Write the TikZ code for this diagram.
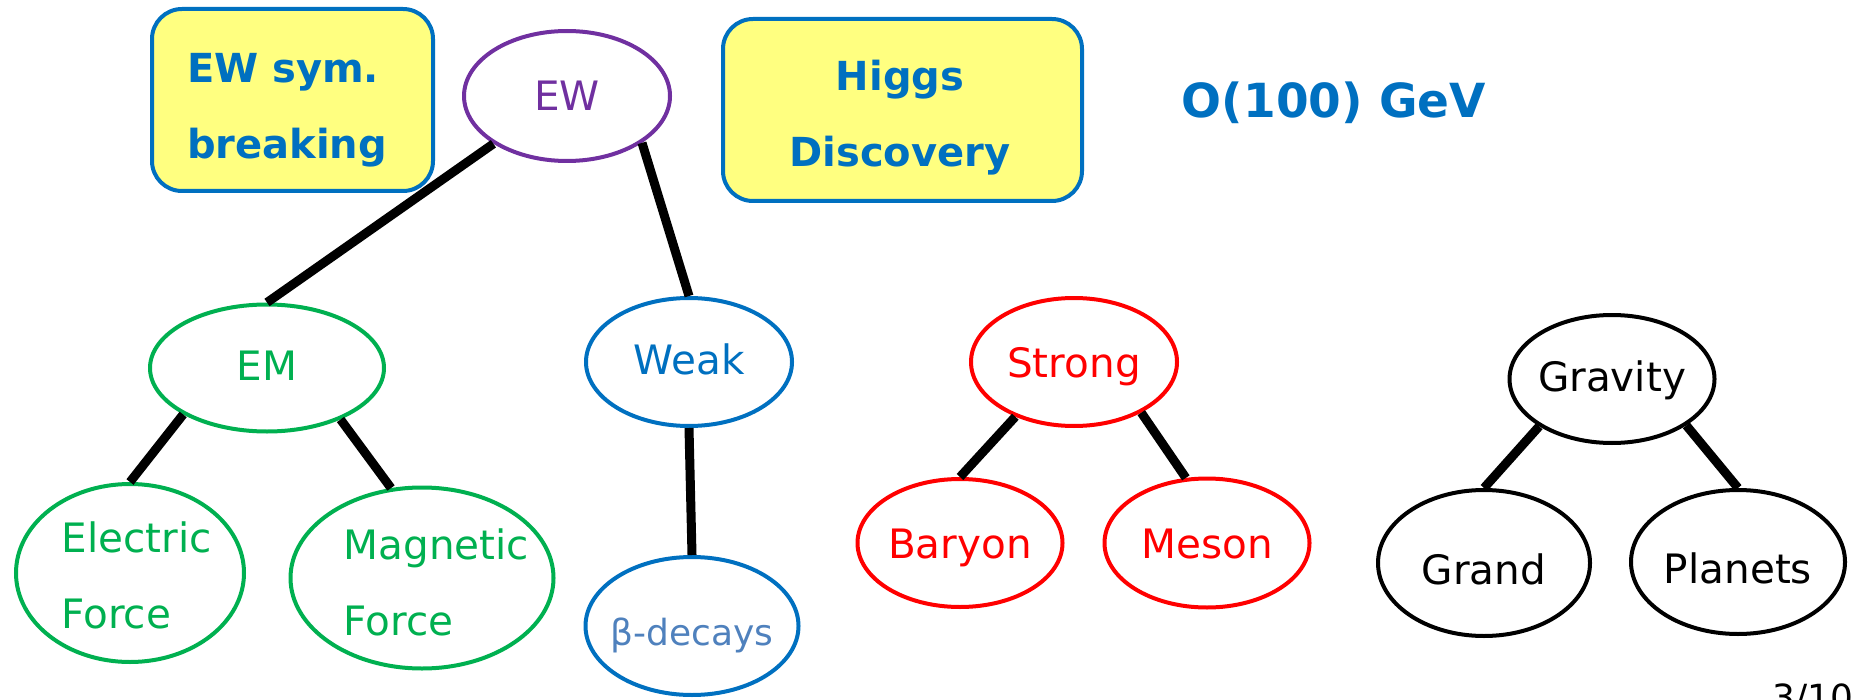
\documentclass[tikz,border=0pt]{standalone}
\usepackage{fontspec}
\setmainfont{DejaVu Sans}
\usetikzlibrary{shapes.geometric}

\definecolor{ppblue}{HTML}{0070C0}
\definecolor{ppyellow}{HTML}{FFFF80}
\definecolor{pppurple}{HTML}{7030A0}
\definecolor{ppgreen}{HTML}{00B050}
\definecolor{ppred}{HTML}{FF0000}
\definecolor{ppsteel}{HTML}{4F81BD}

\begin{document}
\begin{tikzpicture}[x=0.5pt,y=-0.5pt,
  every node/.style={font=\fontsize{20.25}{38}\selectfont},
  % text height sets how far the baseline sits below the ellipse centre
  force/.style={ellipse, draw, line width=2pt, inner sep=-20pt,
                text height=15pt, text depth=0pt},
  link/.style={line width=4.5pt},
  notebox/.style={rectangle, draw=ppblue, fill=ppyellow, line width=2pt,
                  rounded corners=15pt, inner sep=0pt},
  notetext/.style={text=ppblue, font=\bfseries\fontsize{20}{38}\selectfont}
]
\useasboundingbox (0,0) rectangle (1851,700);

% highlighted notes
\node[notebox, minimum width=140.5pt, minimum height=91pt,
      label={[name=ewsymtxt, notetext, align=left, xshift=-2.75pt, yshift=-5pt]center:EW sym.\\breaking}]
      (ewsym) at (292.5,100) {};
\node[notebox, minimum width=179.5pt, minimum height=91pt,
      label={[name=higgstxt, notetext, align=center, xshift=-1.25pt, yshift=-4pt]center:Higgs\\Discovery}]
      (higgs) at (902.5,110) {};
\node[anchor=base, text=ppblue, font=\bfseries\fontsize{23.5}{28}\selectfont]
      (scale) at (1334,118) {O(100) GeV};

% electroweak branch
\node[force, draw=pppurple, text=pppurple, minimum width=103pt, minimum height=65pt] (ew) at (567,96) {EW};
\node[force, draw=ppgreen, text=ppgreen, text height=12pt, minimum width=117pt, minimum height=63.5pt] (em) at (267,368) {EM};
\node[force, draw=ppblue, text=ppblue, text height=12pt, minimum width=103pt, minimum height=64pt] (weak) at (689,362) {Weak};
\node[force, draw=ppgreen, minimum width=114pt, minimum height=89pt,
      label={[name=electxt, text=ppgreen, align=left, xshift=3.25pt, yshift=-1.25pt]center:Electric\\Force}]
      (elec) at (130,573) {};
\node[force, draw=ppgreen, minimum width=131.5pt, minimum height=90.5pt,
      label={[name=magtxt, text=ppgreen, align=left, xshift=7.25pt, yshift=-2.25pt]center:Magnetic\\Force}]
      (mag) at (422,578) {};
\node[force, draw=ppblue, text=ppsteel, font=\fontsize{18}{22}\selectfont, text height=19pt,
      minimum width=106.5pt, minimum height=69pt] (beta) at (692,626) {β-decays};

% strong branch
\node[force, draw=ppred, text=ppred, minimum width=103pt, minimum height=64pt] (strong) at (1074,362) {Strong};
\node[force, draw=ppred, text=ppred, minimum width=102.5pt, minimum height=64pt] (baryon) at (960,543) {Baryon};
\node[force, draw=ppred, text=ppred, minimum width=102.5pt, minimum height=64.5pt] (meson) at (1207,543) {Meson};

% gravity branch
\node[force, draw=black, text height=12pt, minimum width=102.5pt, minimum height=64pt] (gravity) at (1612,379) {Gravity};
\node[force, draw=black, text height=21pt, minimum width=106pt, minimum height=73pt] (grand) at (1484,563) {Grand};
\node[force, draw=black, text height=21pt, minimum width=107pt, minimum height=72pt] (planets) at (1738,562) {Planets};

% links
\draw[link] (ew.213) -- (em.north);
\draw[link] (ew.328) -- (weak.north);
\draw[link] (em.209) -- (elec.north);
\draw[link] (em.325) -- (mag.109);
\draw[link] (weak.south) -- (beta.north);
\draw[link] (strong.223) -- (baryon.north);
\draw[link] (strong.323) -- (meson.108);
\draw[link] (gravity.213) -- (grand.north);
\draw[link] (gravity.328) -- (planets.north);

% page number
\node[anchor=north west, inner sep=0pt, font=\fontsize{18}{20}\selectfont] (page) at (1772,683) {3/10};
\end{tikzpicture}
\end{document}
